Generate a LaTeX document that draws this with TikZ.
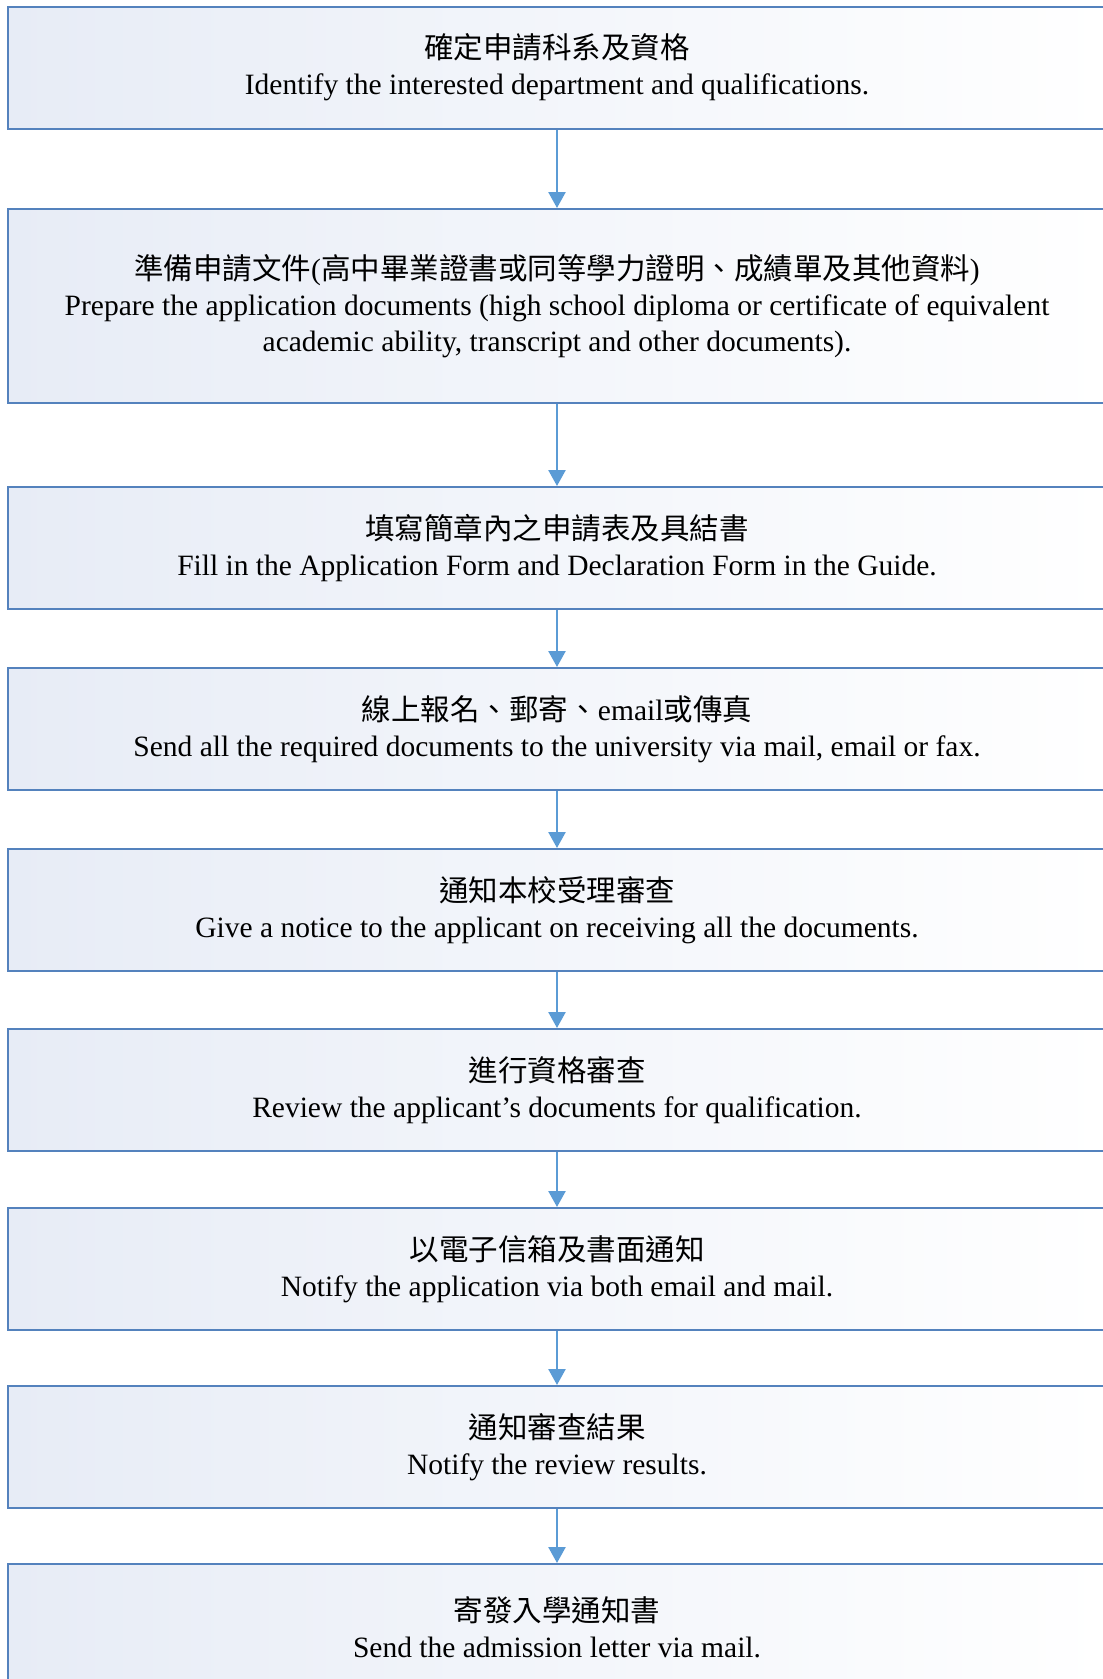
\documentclass[tikz,border=0pt]{standalone}
\usepackage{fontspec}
\setmainfont{Liberation Serif}
\newfontfamily\cjk{Noto Sans CJK TC}
\usepackage{xcolor}
\usepackage{tikz}
\usetikzlibrary{arrows.meta}

\definecolor{boxline}{RGB}{84,130,189}
\definecolor{boxfill}{RGB}{231,236,246}
\definecolor{flowline}{RGB}{91,155,213}

\begin{document}
\begin{tikzpicture}[x=1pt,y=-1pt]
\useasboundingbox (0,0) rectangle (1103,1679);
\begin{scope}[every node/.style={rectangle,draw=boxline,line width=2pt,
                 left color=boxfill,right color=white,
                 minimum width=1098pt,minimum height=122pt,
                 align=center,font=\fontsize{29.5}{36}\selectfont}]
    \node (A) at (557,67.5) {{\cjk 確定申請科系及資格}\\Identify the interested department and qualifications.};
    \node[minimum height=194pt] (B) at (557,306) {{\cjk 準備申請文件}({\cjk 高中畢業證書或同等學力證明、成績單及其他資料})\\Prepare the application documents (high school diploma or certificate of equivalent\\academic ability, transcript and other documents).};
    \node (C) at (557,548) {{\cjk 填寫簡章內之申請表及具結書}\\Fill in the Application Form and Declaration Form in the Guide.};
    \node (D) at (557,729) {{\cjk 線上報名、郵寄、}email{\cjk 或傳真}\\Send all the required documents to the university via mail, email or fax.};
    \node (E) at (557,910) {{\cjk 通知本校受理審查}\\Give a notice to the applicant on receiving all the documents.};
    \node (F) at (557,1090) {{\cjk 進行資格審查}\\Review the applicant’s documents for qualification.};
    \node (G) at (557,1269) {{\cjk 以電子信箱及書面通知}\\Notify the application via both email and mail.};
    \node (H) at (557,1447) {{\cjk 通知審查結果}\\Notify the review results.};
    \node[minimum height=126pt] (I) at (557,1627) {{\cjk 寄發入學通知書}\\Send the admission letter via mail.};
\end{scope}
\begin{scope}[>={Triangle[width=17pt,length=16pt]},
              every edge/.style={draw=flowline,line width=2.5pt}]
    \path [->] (A) edge (B);
    \path [->] (B) edge (C);
    \path [->] (C) edge (D);
    \path [->] (D) edge (E);
    \path [->] (E) edge (F);
    \path [->] (F) edge (G);
    \path [->] (G) edge (H);
    \path [->] (H) edge (I);
\end{scope}
\end{tikzpicture}
\end{document}
